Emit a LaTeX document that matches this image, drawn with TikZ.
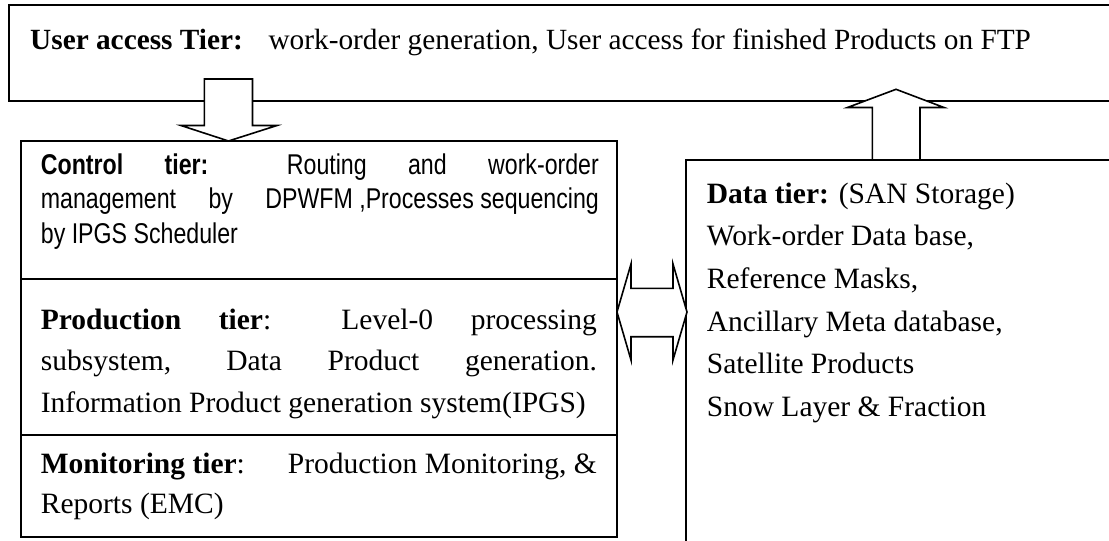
\documentclass[tikz,border=0pt]{standalone}
\usepackage{fontspec}
\setmainfont{Liberation Serif}
\newfontfamily\narrowsans[FakeStretch=0.81]{Liberation Sans}
\begin{document}
\begin{tikzpicture}[x=1pt,y=-1pt,
  frame/.style={draw=black,line width=1.6pt},
  blockarrow/.style={draw=black,fill=white,line width=1.6pt,line join=miter},
  txt/.style={inner sep=0pt,anchor=base west},
]
\useasboundingbox (0,0) rectangle (1109,541);
% top box (runs off the right edge)
\draw[frame] (1112,5) -- (9,5) -- (9,101) -- (1112,101);
% left stack of tiers
\draw[frame] (21,141) rectangle (617,537);
\draw[frame] (21,279) -- (617,279);
\draw[frame] (21,435) -- (617,435);
% data box (runs off right and bottom)
\draw[frame] (1112,160) -- (686,160) -- (686,544);
% block arrows
\draw[blockarrow] (204.3,79) -- (252.5,79) -- (252.5,125.5) -- (277,125.5) -- (228.5,141)
  -- (181,125.5) -- (204.3,125.5) -- cycle;
\draw[blockarrow] (872.3,160) -- (872.3,107.5) -- (847.5,107.5) -- (896,89.3) -- (944,107.5)
  -- (920,107.5) -- (920,160) -- cycle;
\draw[blockarrow] (617,312) -- (631,264) -- (631,288.3) -- (673,288.3) -- (673,264) -- (687,312)
  -- (673,360) -- (673,336.7) -- (631,336.7) -- (631,360) -- cycle;
% texts
\node[txt] (usertxt) at (30,49) {\fontsize{29.3}{42}\selectfont\textbf{User access Tier:}\hspace{16pt} work-order generation, User access for finished Products on FTP};
\node[txt] (controltxt) at (40.7,174) {\parbox[t]{558pt}{\narrowsans\fontsize{28.6}{34.5}\selectfont
  \makebox[558pt][s]{\textbf{Control tier:} Routing and work-order}\\
  \makebox[558pt][l]{management\hfill by\hfill DPWFM ,Processes sequencing}\\
  by IPGS Scheduler}};
\node[txt] (prodtxt) at (40.7,329) {\parbox[t]{556pt}{\fontsize{29.5}{41.5}\selectfont
  \makebox[556pt][s]{\textbf{Production tier}: Level-0 processing}\\
  \makebox[556pt][s]{subsystem, Data Product generation.}\\
  Information Product generation system(IPGS)}};
\node[txt] (montxt) at (40.7,473) {\parbox[t]{556pt}{\fontsize{29.5}{40}\selectfont
  \makebox[556pt][l]{\textbf{Monitoring tier}:\hfill Production Monitoring, \&}\\
  Reports (EMC)}};
\node[txt] (datatxt) at (706.7,203) {\parbox[t]{390pt}{\fontsize{29.5}{42.7}\selectfont
  \textbf{Data tier:} (SAN Storage)\\
  Work-order Data base,\\
  Reference Masks,\\
  Ancillary Meta database,\\
  Satellite Products\\
  Snow Layer \& Fraction}};
\end{tikzpicture}
\end{document}
